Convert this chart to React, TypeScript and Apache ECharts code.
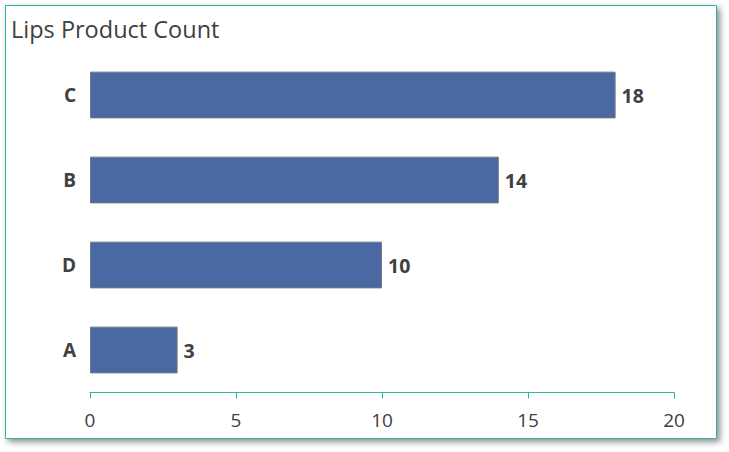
import React, { useEffect, useRef } from "react";
import * as echarts from "echarts";

const categories = ["A", "D", "B", "C"];
const values = [3, 10, 14, 18];
const xTicks = { min: 0, max: 20, interval: 5 };

export default function App() {
  const ref = useRef<HTMLDivElement>(null);
  useEffect(() => {
    if (!ref.current) return;
    const chart = echarts.init(ref.current, null, { renderer: "svg" });
    const font = "'Open Sans', 'Noto Sans', sans-serif";
    chart.setOption({
      animation: false,
      backgroundColor: "#ffffff",
      textStyle: { fontFamily: font },
      graphic: [
        {
          type: "rect",
          z: -10,
          shape: { x: 5.5, y: 5.5, width: 711, height: 433 },
          style: {
            fill: "#ffffff",
            stroke: "#2fb3a6",
            lineWidth: 1,
            shadowBlur: 6,
            shadowOffsetX: 3,
            shadowOffsetY: 3,
            shadowColor: "rgba(0,0,0,0.45)",
          },
        },
      ],
      title: {
        text: "Lips Product Count",
        left: 6,
        top: 12,
        textStyle: {
          fontFamily: font,
          fontSize: 23.5,
          fontWeight: "normal",
          color: "#404040",
        },
      },
      grid: { left: 90, right: 55, top: 52.5, bottom: 59.5, containLabel: false },
      xAxis: {
        type: "value",
        min: xTicks.min,
        max: xTicks.max,
        interval: xTicks.interval,
        axisLine: { show: true, lineStyle: { color: "#2fb3a6", width: 1 } },
        axisTick: { show: true, length: 6, lineStyle: { color: "#2fb3a6" } },
        splitLine: { show: false },
        axisLabel: { color: "#404040", fontSize: 19, margin: 18, fontFamily: font },
      },
      yAxis: {
        type: "category",
        data: categories,
        axisLine: { show: false },
        axisTick: { show: false },
        axisLabel: {
          color: "#404040",
          fontSize: 19,
          fontWeight: "bold",
          margin: 14,
          fontFamily: font,
        },
      },
      series: [
        {
          type: "bar",
          data: values,
          barCategoryGap: "45%",
          itemStyle: { color: "#4a68a1", borderColor: "#707a88", borderWidth: 1 },
          label: {
            show: true,
            position: "right",
            distance: 6,
            color: "#404040",
            fontSize: 19.5,
            fontWeight: "bold",
            fontFamily: font,
          },
        },
      ],
    });
    return () => chart.dispose();
  }, []);
  return (
    <div
      ref={ref}
      style={{ position: "fixed", left: 0, top: 0, width: 729, height: 452 }}
    />
  );
}
